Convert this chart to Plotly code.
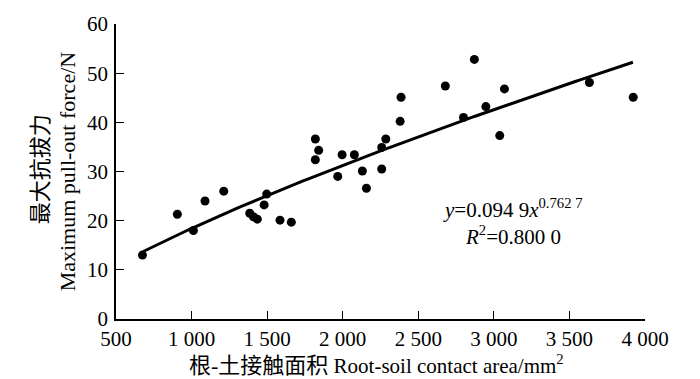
import numpy as np
import plotly.graph_objects as go

# Data
contact_area = [675, 906, 1012, 1089, 1213, 1385, 1409, 1435, 1480, 1497,
                1585, 1660, 1819, 1841, 1819, 1967, 1996, 2077, 2130, 2157,
                2258, 2258, 2285, 2380, 2386, 2679, 2871, 2799, 2947, 3070,
                3039, 3632, 3922]
pull_force = [13.0, 21.3, 18.0, 24.0, 26.0, 21.5, 20.8, 20.3, 23.2, 25.4,
              20.1, 19.7, 36.6, 34.3, 32.4, 29.0, 33.4, 33.4, 30.1, 26.6,
              34.9, 30.5, 36.6, 40.2, 45.1, 47.4, 52.8, 41.0, 43.2, 46.8,
              37.3, 48.1, 45.1]

# Fitted power curve stated on the chart: y = 0.0949 x^0.7627
fit_a = 0.0949
fit_b = 0.7627
fit_x = np.linspace(680, 3920, 120)
fit_y = fit_a * fit_x ** fit_b

x_ticks = [500, 1000, 1500, 2000, 2500, 3000, 3500, 4000]
x_ticklabels = ["500", "1 000", "1 500", "2 000", "2 500", "3 000", "3 500", "4 000"]
y_ticks = [0, 10, 20, 30, 40, 50, 60]

FONT = "Liberation Serif, Times New Roman, Noto Sans CJK SC, serif"

fig = go.Figure()
fig.add_trace(go.Scatter(x=contact_area, y=pull_force, mode="markers",
                         marker=dict(color="black", size=9), showlegend=False,
                         cliponaxis=False))
fig.add_trace(go.Scatter(x=fit_x, y=fit_y, mode="lines",
                         line=dict(color="black", width=3), showlegend=False))

axis_common = dict(showline=True, linecolor="black", linewidth=1.5,
                   ticks="inside", ticklen=8, tickcolor="black", tickwidth=1.2,
                   showgrid=False, zeroline=False, mirror=False,
                   ticklabeloverflow="allow",
                   tickfont=dict(family=FONT, size=21, color="black"))

fig.update_xaxes(range=[500, 4000], tickvals=x_ticks, ticktext=x_ticklabels,
                 ticklabelstandoff=0, **axis_common)
fig.update_yaxes(range=[0, 60], tickvals=y_ticks, ticklabelstandoff=2,
                 **axis_common)

fig.update_layout(
    width=700, height=379,
    margin=dict(l=116, r=55, t=15, b=60),
    plot_bgcolor="white", paper_bgcolor="white",
    font=dict(family=FONT, color="black"),
    annotations=[
        dict(text="<span style='font-size:22px'>根-土接触面积</span> Root-soil contact area/mm<sup>2</sup>",
             xref="paper", yref="paper", x=0.493, y=-0.155, xanchor="center",
             yanchor="middle", showarrow=False,
             font=dict(family=FONT, size=21, color="black")),
        dict(text="最大抗拔力", xref="paper", yref="paper", x=-0.142, y=0.507,
             xanchor="center", yanchor="middle", textangle=-90, showarrow=False,
             font=dict(family=FONT, size=22, color="black")),
        dict(text="Maximum pull-out force/N", xref="paper", yref="paper",
             x=-0.091, y=0.5, xanchor="center", yanchor="middle", textangle=-90,
             showarrow=False, font=dict(family=FONT, size=22, color="black")),
        dict(text="<i>y</i>=0.094 9<i>x</i><sup>0.762 7</sup>", xref="x", yref="y",
             x=3127, y=22.4, xanchor="center", yanchor="middle", showarrow=False,
             font=dict(family=FONT, size=21, color="black")),
        dict(text="<i>R</i><sup>2</sup>=0.800 0", xref="x", yref="y",
             x=3127, y=17.0, xanchor="center", yanchor="middle", showarrow=False,
             font=dict(family=FONT, size=21, color="black")),
    ],
)

# remove the browser's default 8px page margin so the figure sits at (0, 0)
fig.write_html("out.html", config={"displayModeBar": False},
               post_script="document.body.style.margin='0';")
